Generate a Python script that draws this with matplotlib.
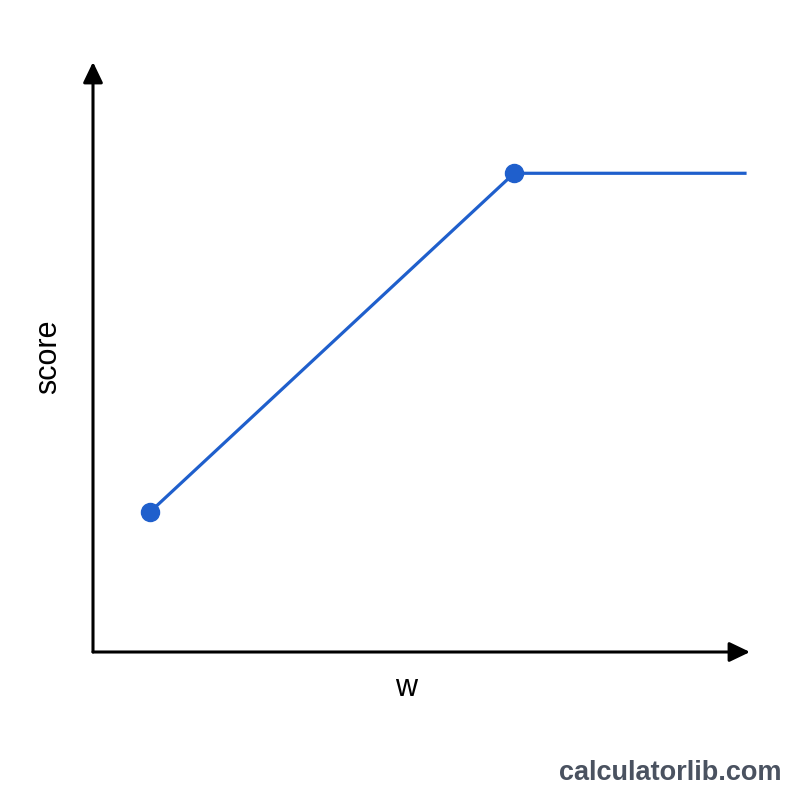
import matplotlib.pyplot as plt

# piecewise score curve: rises, then levels off
w = [1.0, 7.39, 11.47]
score = [2.0, 6.84, 6.84]
marked_w = w[:2]
marked_score = score[:2]

line_color = "#1f5fcc"

plt.rcParams['font.family'] = ['Liberation Sans', 'DejaVu Sans']

fig = plt.figure(figsize=(8, 8), dpi=100)
ax = fig.add_axes([93 / 800, 148 / 800, 657 / 800, 590 / 800])
ax.set_xlim(0, 11.53)
ax.set_ylim(0, 8.43)
ax.axis('off')

# axes drawn as arrows
arrow = dict(arrowstyle='-|>,head_length=1.25,head_width=0.6',
             mutation_scale=10, lw=2.2, color='black',
             shrinkA=0, shrinkB=0)
ax.annotate('', xy=(1, 0), xytext=(0, 0), xycoords='axes fraction',
            arrowprops=arrow, annotation_clip=False)
ax.annotate('', xy=(0, 1), xytext=(0, 0), xycoords='axes fraction',
            arrowprops=arrow, annotation_clip=False)

ax.plot(w, score, color=line_color, lw=2.3, solid_capstyle='butt')
ax.plot(marked_w, marked_score, 'o', color=line_color, ms=13, clip_on=False)

fig.text(48 / 800, 1 - 357 / 800, 'score', rotation=90, fontsize=22,
         ha='center', va='center', color='black')
fig.text(406 / 800, 1 - 688 / 800, 'w', fontsize=22,
         ha='center', va='center', color='black')
fig.text(782 / 800, 1 - 773 / 800, 'calculatorlib.com', fontsize=19.5,
         fontweight='bold', ha='right', va='center', color='#4a5260')

fig.savefig('out.png', dpi=100, facecolor='white')
